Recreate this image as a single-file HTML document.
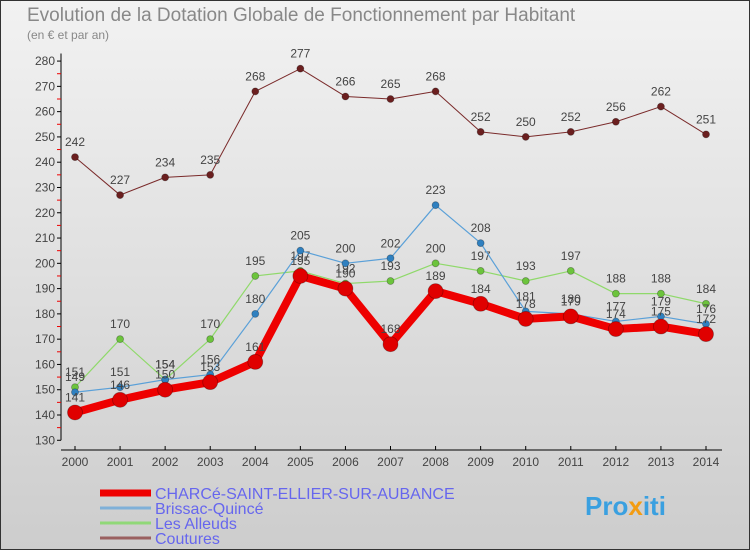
<!DOCTYPE html>
<html><head><meta charset="utf-8"><style>
body{margin:0;width:750px;height:550px;overflow:hidden;font-family:"Liberation Sans",sans-serif}
</style></head><body>
<svg id="chart" width="750" height="550" xmlns="http://www.w3.org/2000/svg" font-family="Liberation Sans, sans-serif">
<defs><linearGradient id="bg" x1="0" y1="0" x2="0" y2="1"><stop offset="0" stop-color="#f2f2f2"/><stop offset="1" stop-color="#cdcdcd"/></linearGradient></defs>
<rect x="0.5" y="0.5" width="749" height="549" fill="url(#bg)" stroke="#333"/>
<text x="27" y="21" font-size="19" fill="#888">Evolution de la Dotation Globale de Fonctionnement par Habitant</text>
<text x="27" y="39" font-size="12" fill="#888">(en € et par an)</text>
<g id="axes"></g>
<g id="series"></g>
<g id="legend"></g>
<text x="585" y="515" font-size="26" font-weight="bold"><tspan fill="#3aa0e0">Pro</tspan><tspan fill="#f39c12">x</tspan><tspan fill="#3aa0e0">iti</tspan></text>
</svg>
<script>
const years=[2000,2001,2002,2003,2004,2005,2006,2007,2008,2009,2010,2011,2012,2013,2014];
const charce=[141,146,150,153,161,195,190,168,189,184,178,179,174,175,172];
const brissac=[149,151,154,156,180,205,200,202,223,208,181,180,177,179,176];
const alleuds=[151,170,154,170,195,197,192,193,200,197,193,197,188,188,184];
const coutures=[242,227,234,235,268,277,266,265,268,252,250,252,256,262,251];
const yTicks=[130,140,150,160,170,180,190,200,210,220,230,240,250,260,270,280];
const seriesNames=["CHARCé-SAINT-ELLIER-SUR-AUBANCE","Brissac-Quincé","Les Alleuds","Coutures"];
const NS="http://www.w3.org/2000/svg";
const x=i=>75+i*(706-75)/(years.length-1);
const y=v=>415-(v-140)*2.528;
function mk(tag,attrs,parent){const e=document.createElementNS(NS,tag);for(const k in attrs)e.setAttribute(k,attrs[k]);parent.appendChild(e);return e;}
const ax=document.getElementById('axes');
let a=mk('line',{x1:61,y1:y(283),x2:61,y2:y(130),stroke:'#000'},ax);


a=mk('line',{x1:61,y1:450,x2:722,y2:450,stroke:'#000'},ax);


yTicks.forEach(v=>{
 mk('line',{x1:57,y1:y(v),x2:61,y2:y(v),stroke:'#000'},ax);
 if(v<280)mk('line',{x1:57,y1:y(v+5),x2:61,y2:y(v+5),stroke:'#e00'},ax);
 const t=mk('text',{x:55,y:y(v)+4,'text-anchor':'end','font-size':12,fill:'#444'},ax);t.textContent=v;
 
 
});
years.forEach((yr,i)=>{
 mk('line',{x1:x(i),y1:446,x2:x(i),y2:450,stroke:'#000'},ax);
 const t=mk('text',{x:x(i),y:466,'text-anchor':'middle','font-size':12,fill:'#444'},ax);t.textContent=yr;
 
 
});
const sg=document.getElementById('series');
const defs=[[coutures,'#7a2a2a','#6b1f1f',1,3.5,'coutures'],[alleuds,'#8fd96a','#6cc43c',1.2,3.5,'les-alleuds'],[brissac,'#5aa0d8','#2f80c0',1.2,3.5,'brissac-quince'],[charce,'#ee0000','#e00000',8,7.5,'charce']];
defs.forEach(([d,lc,pc,w,r,name])=>{
 const g=mk('g',{},sg);
 
 
 const p=mk('polyline',{points:d.map((v,i)=>x(i)+','+y(v)).join(' '),fill:'none',stroke:lc,'stroke-width':w,'stroke-linejoin':'round'},g);
 
 
 d.forEach((v,i)=>{
  const c=mk('circle',{cx:x(i),cy:y(v),r:r,fill:pc,stroke:'rgba(0,0,0,0.3)','stroke-width':0.8},g);
  
  
  const t=mk('text',{x:x(i),y:y(v)-11,'text-anchor':'middle','font-size':12,fill:'#444'},g);t.textContent=v;
  
  
 });
});
const lg=document.getElementById('legend');
const lcol=['#ee0000','#7fb0d8','#90d878','#9a6060'];const lw=[7,3,3,3];
seriesNames.forEach((n,i)=>{
 const yy=493+i*15;
 const g=mk('g',{},lg);
 
 
 mk('line',{x1:100,y1:yy,x2:151,y2:yy,stroke:lcol[i],'stroke-width':lw[i]},g);
 const t=mk('text',{x:155,y:yy+6,'font-size':16,fill:'#6666ee'},g);t.textContent=n;
});
</script>
</body></html>
